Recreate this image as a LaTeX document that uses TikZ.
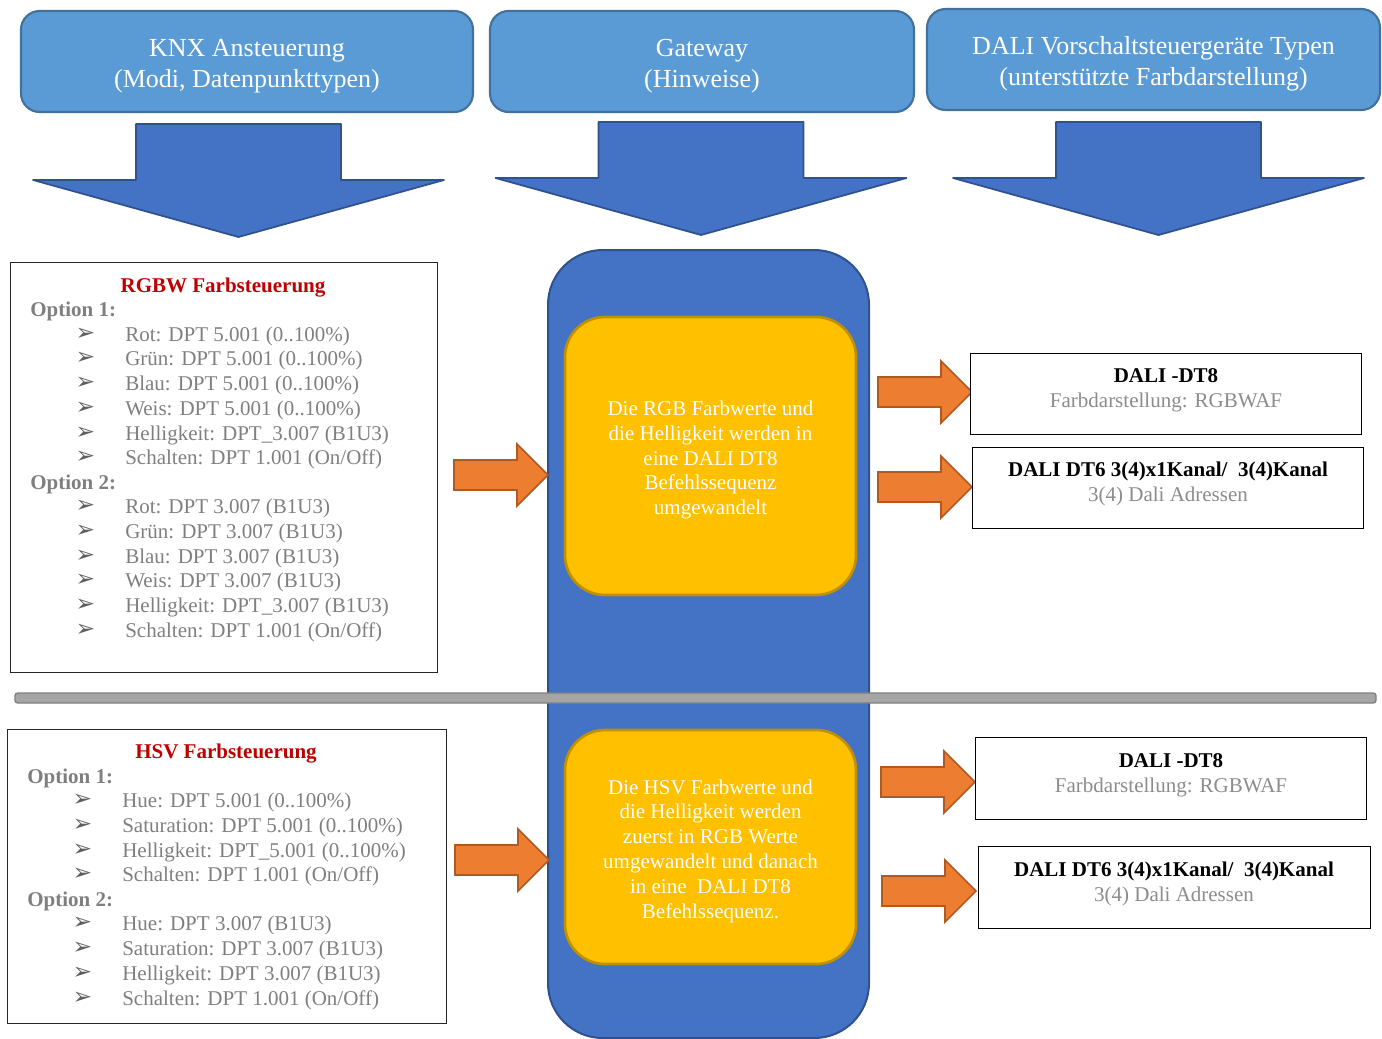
\documentclass[tikz,border=0pt]{standalone}
\usepackage{fontspec}
\setmainfont{Liberation Serif}
\newfontfamily\symfont{DejaVu Sans}
\definecolor{hdrfill}{HTML}{5B9BD5}
\definecolor{hdrdraw}{HTML}{41719C}
\definecolor{bluefill}{HTML}{4472C4}
\definecolor{bluedraw}{HTML}{2F528F}
\definecolor{yelfill}{HTML}{FFC000}
\definecolor{yeldraw}{HTML}{BF9000}
\definecolor{orfill}{HTML}{ED7D31}
\definecolor{ordraw}{HTML}{AE5A21}
\definecolor{sepfill}{HTML}{A5A5A5}
\definecolor{sepdraw}{HTML}{7F7F7F}
\definecolor{ttlred}{HTML}{C00000}
\definecolor{txtgray}{HTML}{7F7F7F}
\definecolor{bulgray}{HTML}{5F5F5F}
\definecolor{subgray}{HTML}{8C8C8C}
\newcommand\hdrfont{\fontsize{19.5}{23.25}\selectfont}
\newcommand\bodyfont{\fontsize{15.75}{18.6}\selectfont}
\newcommand\bulglyph{{\symfont ➢}}
\def\u{0.75pt}
\tikzset{
  hdr/.style={draw=hdrdraw, fill=hdrfill, line width=1.6pt, rounded corners=14pt, inner sep=0pt},
  hdrtxt/.style={text=white, align=center, font=\hdrfont, inner sep=0pt},
  darr/.style={draw=bluedraw, fill=bluefill, line width=1.3pt, line join=round},
  colbox/.style={draw=bluedraw, fill=bluefill, line width=1.5pt, rounded corners=41pt},
  yelbox/.style={draw=yeldraw, fill=yelfill, line width=2pt, rounded corners=30pt, inner sep=0pt},
  yeltxt/.style={text=white, align=center, font=\bodyfont, inner sep=0pt},
  oarr/.style={draw=ordraw, fill=orfill, line width=1.3pt, line join=miter},
  lbox/.style={draw=black!85, line width=0.9pt, inner sep=0pt},
  rbox/.style={draw=black, line width=0.9pt, inner sep=0pt, fill=white},
  ttl/.style={text=ttlred, font=\bodyfont\bfseries, inner sep=0pt},
  opt/.style={text=txtgray, font=\bodyfont\bfseries, inner sep=0pt, anchor=base west},
  item/.style={text=txtgray, font=\bodyfont, inner sep=0pt, anchor=base west},
  bul/.style={text=bulgray, font=\fontsize{17.5}{19}\selectfont, inner sep=0pt, anchor=center},
  rtxt/.style={align=center, font=\bodyfont, inner sep=0pt},
  sepbar/.style={draw=sepdraw, fill=sepfill, line width=1pt, rounded corners=2pt},
  rarrow/.pic={\draw[oarr] (0,-15) -- (63,-15) -- (63,-31) -- (94,0) -- (63,31) -- (63,15) -- (0,15) -- cycle;},
  downarrow/.pic={\draw[darr] (-102.5,0) -- (102.5,0) -- (102.5,56) -- (205.5,56) -- (0,113) -- (-205.5,56) -- (-102.5,56) -- cycle;}
}
\begin{document}
\begin{tikzpicture}[x=0.75pt, y=-0.75pt]
\useasboundingbox (0,0) rectangle (1382,1039);

% header boxes
\node[hdr, minimum width=452*\u, minimum height=101*\u] (h1) at (247,61.5) {};
\node[hdrtxt] (h1t) at (247,66) {KNX Ansteuerung\\(Modi, Datenpunkttypen)};
\node[hdr, minimum width=424*\u, minimum height=101*\u] (h2) at (702,61.5) {};
\node[hdrtxt] (h2t) at (702,66) {Gateway\\(Hinweise)};
\node[hdr, minimum width=453*\u, minimum height=101*\u] (h3) at (1153.5,59.5) {};
\node[hdrtxt] (h3t) at (1153.5,64) {DALI Vorschaltsteuergeräte Typen\\(unterstützte Farbdarstellung)};

% down arrows
\pic (d1) at (238.5,124) {downarrow};
\pic (d2) at (701,122) {downarrow};
\pic (d3) at (1158.5,122) {downarrow};

% centre column
\draw[colbox] (548,250) rectangle (869,1038);
\coordinate (colc) at (708.5,644);

% separator
\draw[sepbar] (15,693) rectangle (1376,703);

% yellow boxes
\node[yelbox, minimum width=291*\u, minimum height=278*\u] (y1) at (710.5,456) {};
\node[yeltxt] (y1t) at (710.5,460) {Die RGB Farbwerte und\\die Helligkeit werden in\\eine DALI DT8\\Befehlssequenz\\umgewandelt};
\node[yelbox, minimum width=291*\u, minimum height=234*\u] (y2) at (710.5,847) {};
\node[yeltxt] (y2t) at (710.5,851) {Die HSV Farbwerte und\\die Helligkeit werden\\zuerst in RGB Werte\\umgewandelt und danach\\in eine~ DALI DT8\\Befehlssequenz.};

% left boxes
\node[lbox, minimum width=427*\u, minimum height=410*\u, anchor=north west] (rgbbox) at (10,262) {};
\node[ttl] (rgbttl) at (223,288) {RGBW Farbsteuerung};
\node[opt] (rgbo1) at (30,316) {Option 1:};
\node[opt] (rgbo2) at (30,489) {Option 2:};
\foreach \yy/\tt [count=\i] in {334/{Rot: DPT 5.001 (0..100\%)}, 358/{Grün: DPT 5.001 (0..100\%)},
  383/{Blau: DPT 5.001 (0..100\%)}, 408/{Weis: DPT 5.001 (0..100\%)},
  433/{Helligkeit: DPT\_3.007 (B1U3)}, 457/{Schalten: DPT 1.001 (On/Off)},
  506/{Rot: DPT 3.007 (B1U3)}, 531/{Grün: DPT 3.007 (B1U3)},
  556/{Blau: DPT 3.007 (B1U3)}, 580/{Weis: DPT 3.007 (B1U3)},
  605/{Helligkeit: DPT\_3.007 (B1U3)}, 630/{Schalten: DPT 1.001 (On/Off)}}{
  \node[bul] (rgbb\i) at (85.5,\yy) {\bulglyph};
  \node[item] (rgbi\i) at (125,\yy+7) {\tt};
}

\node[lbox, minimum width=439*\u, minimum height=294*\u, anchor=north west] (hsvbox) at (7,729) {};
\node[ttl] (hsvttl) at (226,754) {HSV Farbsteuerung};
\node[opt] (hsvo1) at (27,783) {Option 1:};
\node[opt] (hsvo2) at (27,906) {Option 2:};
\foreach \yy/\tt [count=\i] in {800/{Hue: DPT 5.001 (0..100\%)}, 825/{Saturation: DPT 5.001 (0..100\%)},
  850/{Helligkeit: DPT\_5.001 (0..100\%)}, 874/{Schalten: DPT 1.001 (On/Off)},
  923/{Hue: DPT 3.007 (B1U3)}, 948/{Saturation: DPT 3.007 (B1U3)},
  973/{Helligkeit: DPT 3.007 (B1U3)}, 998/{Schalten: DPT 1.001 (On/Off)}}{
  \node[bul] (hsvb\i) at (82.5,\yy) {\bulglyph};
  \node[item] (hsvi\i) at (122,\yy+7) {\tt};
}

% orange arrows
\pic (a1) at (454,475) {rarrow};
\pic (a2) at (878,392) {rarrow};
\pic (a3) at (878,487) {rarrow};
\pic (a4) at (455,860) {rarrow};
\pic (a5) at (881,782) {rarrow};
\pic (a6) at (882,891) {rarrow};

% right boxes
\node[rbox, minimum width=391*\u, minimum height=81*\u, anchor=north west] (r1) at (970,353) {};
\node[rtxt] (r1t) at (1166,390) {\textbf{DALI -DT8}\\\textcolor{subgray}{Farbdarstellung: RGBWAF}};
\node[rbox, minimum width=391*\u, minimum height=81*\u, anchor=north west] (r2) at (972,447) {};
\node[rtxt] (r2t) at (1168,484) {\textbf{DALI DT6 3(4)x1Kanal/~ 3(4)Kanal}\\\textcolor{subgray}{3(4) Dali Adressen}};
\node[rbox, minimum width=391*\u, minimum height=82*\u, anchor=north west] (r3) at (975,737) {};
\node[rtxt] (r3t) at (1171,775) {\textbf{DALI -DT8}\\\textcolor{subgray}{Farbdarstellung: RGBWAF}};
\node[rbox, minimum width=392*\u, minimum height=82*\u, anchor=north west] (r4) at (978,846) {};
\node[rtxt] (r4t) at (1174,884) {\textbf{DALI DT6 3(4)x1Kanal/~ 3(4)Kanal}\\\textcolor{subgray}{3(4) Dali Adressen}};
\end{tikzpicture}
\end{document}
